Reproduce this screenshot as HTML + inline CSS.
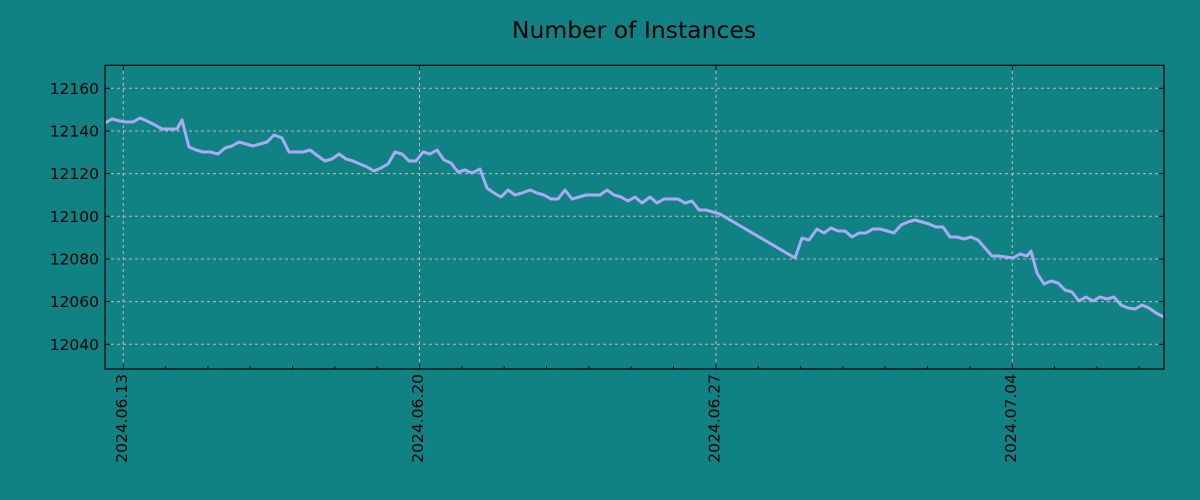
<!DOCTYPE html>
<html><head><style>body{margin:0;background:#108284}svg{display:block}</style></head>
<body>
<svg width="1200" height="500" xmlns="http://www.w3.org/2000/svg" font-family="DejaVu Sans, Liberation Sans, sans-serif">
<rect width="1200" height="500" fill="#108284"/>
<text x="634" y="38" font-size="23.5" text-anchor="middle" fill="#000">Number of Instances</text>
<g stroke="#e0c4bc" stroke-width="1" stroke-dasharray="3,3" opacity="0.85">
<line x1="105" x2="1164" y1="88.3" y2="88.3"/><line x1="105" x2="1164" y1="131" y2="131"/><line x1="105" x2="1164" y1="173.6" y2="173.6"/><line x1="105" x2="1164" y1="216.3" y2="216.3"/><line x1="105" x2="1164" y1="259" y2="259"/><line x1="105" x2="1164" y1="301.6" y2="301.6"/><line x1="105" x2="1164" y1="344.3" y2="344.3"/>
<line x1="123.3" x2="123.3" y1="65" y2="369"/><line x1="419.5" x2="419.5" y1="65" y2="369"/><line x1="716" x2="716" y1="65" y2="369"/><line x1="1012.3" x2="1012.3" y1="65" y2="369"/>
</g>
<polyline fill="none" stroke="#aaaaf5" stroke-width="3" stroke-linejoin="round" points="105,123 112,119 120,121 126,122 133,122 140,118 147,121 155,125 162,129 169,129 177,129 182,120 189,147 196,150 203,152 210,152 218,154 225,148 232,146 239,142 246,144 253,146 260,144 267,142 274,135 282,138 289,152 296,152 303,152 310,150 318,156 325,161 332,159 339,154 346,159 353,161 360,164 367,167 374,171 381,168 388,164 395,152 402,154 409,161 416,161 423,152 430,154 437,150 444,160 451,163 458,172 465,170 472,173 480,169 487,188 494,193 501,197 508,190 515,195 522,193 530,190 537,193 544,195 551,199 558,199 565,190 572,199 579,197 586,195 593,195 600,195 607,190 614,195 621,197 628,201 635,197 642,203 650,197 657,203 664,199 671,199 678,199 685,203 692,201 699,210 706,210 713,212 720,214 795,258 802,238 809,240 817,229 824,233 831,228 838,231 845,231 852,237 859,233 866,233 873,229 880,229 887,231 894,233 901,225 908,222 915,220 922,222 929,224 936,227 943,227 950,237 957,237 964,239 971,237 978,240 985,248 992,256 999,256 1006,257 1013,258 1020,254 1027,256 1031,251 1037,273 1044,284 1051,281 1058,283 1065,290 1072,292 1079,301 1086,297 1093,301 1100,297 1107,299 1114,297 1121,305 1128,308 1135,309 1142,305 1149,308 1156,313 1164,317"/>
<rect x="105" y="65.3" width="1059" height="303.7" fill="none" stroke="#000" stroke-width="1.2"/>
<g stroke="#000" stroke-width="1">
<path d="M123.3,369v-5M419.5,369v-5M716,369v-5M1012.3,369v-5M123.3,65v5M419.5,65v5M716,65v5M1012.3,65v5"/>
<path d="M165.6,369v-3M207.9,369v-3M250.2,369v-3M292.5,369v-3M334.9,369v-3M377.2,369v-3M461.8,369v-3M504.2,369v-3M546.5,369v-3M588.8,369v-3M631.1,369v-3M673.5,369v-3M758.3,369v-3M800.6,369v-3M842.9,369v-3M885.2,369v-3M927.6,369v-3M969.9,369v-3M1054.6,369v-3M1096.9,369v-3M1139.2,369v-3"/>
<path d="M105,88.3h5M105,131h5M105,173.6h5M105,216.3h5M105,259h5M105,301.6h5M105,344.3h5M1164,88.3h-5M1164,131h-5M1164,173.6h-5M1164,216.3h-5M1164,259h-5M1164,301.6h-5M1164,344.3h-5"/>
</g>
<g font-size="15.5" fill="#000" text-anchor="end">
<text x="99" y="93.8">12160</text><text x="99" y="136.5">12140</text><text x="99" y="179.1">12120</text><text x="99" y="221.8">12100</text><text x="99" y="264.5">12080</text><text x="99" y="307.1">12060</text><text x="99" y="349.8">12040</text>
<text transform="translate(127,374) rotate(-90)">2024.06.13</text>
<text transform="translate(423.2,374) rotate(-90)">2024.06.20</text>
<text transform="translate(719.7,374) rotate(-90)">2024.06.27</text>
<text transform="translate(1016,374) rotate(-90)">2024.07.04</text>
</g>
</svg>
</body></html>
